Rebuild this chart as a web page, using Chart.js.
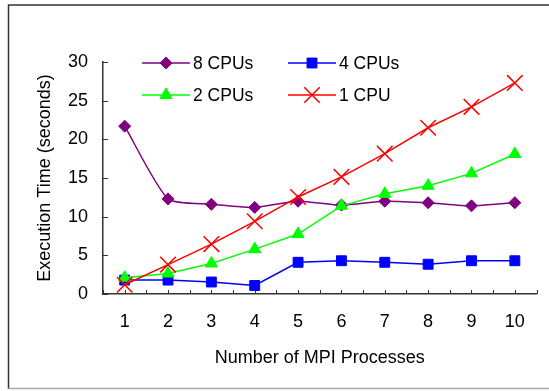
<!DOCTYPE html>
<html>
<head>
<meta charset="utf-8">
<script src="https://cdn.jsdelivr.net/npm/chart.js@4.4.1/dist/chart.umd.min.js"></script>
<style>
  body { margin: 0; background: #fff; }
  canvas { display: block; }
</style>
</head>
<body>
<canvas id="chart" width="549" height="391"></canvas>
<script>
// data
let procs = ['1', '2', '3', '4', '5', '6', '7', '8', '9', '10']
let cpu8 = [21.7, 12.3, 11.6, 11.2, 12.0, 11.5, 12.0, 11.8, 11.4, 11.8]
let cpu4 = [1.8, 1.8, 1.55, 1.1, 4.1, 4.3, 4.1, 3.85, 4.3, 4.3]
let cpu2 = [2.1, 2.65, 3.95, 5.8, 7.75, 11.4, 12.95, 14.0, 15.6, 18.1]
let cpu1 = [1.2, 3.8, 6.45, 9.4, 12.55, 15.15, 18.15, 21.5, 24.2, 27.3]
let yTicks = [0, 5, 10, 15, 20, 25, 30]

let fontName = "'Liberation Sans', Arial, sans-serif"

// frame round the whole picture (left/top dark, bottom light)
const framePlugin = {
    id: 'frame',
    beforeDraw(chart) {
        const ctx = chart.ctx
        ctx.save()
        ctx.fillStyle = '#fff'
        ctx.fillRect(0, 0, chart.width, chart.height)
        ctx.lineWidth = 1.5
        ctx.strokeStyle = '#333'
        ctx.beginPath()
        ctx.moveTo(8.5, chart.height - 2)
        ctx.lineTo(8.5, 5)
        ctx.lineTo(chart.width, 5)
        ctx.stroke()
        ctx.strokeStyle = '#aaa'
        ctx.beginPath()
        ctx.moveTo(8.5, chart.height - 2.5)
        ctx.lineTo(chart.width, chart.height - 2.5)
        ctx.stroke()
        ctx.restore()
    }
}

// small tick marks pointing into the plot, like the Excel original
const innerTicks = {
    id: 'innerTicks',
    afterDraw(chart) {
        const ctx = chart.ctx
        const x = chart.scales.x, y = chart.scales.y
        ctx.save()
        ctx.strokeStyle = '#333'
        ctx.lineWidth = 1
        ctx.beginPath()
        let half = (x.getPixelForValue(1) - x.getPixelForValue(0)) / 2
        for (let i = 0; i < procs.length; i++) {
            let px = x.getPixelForValue(i)
            for (let p of [px - half, px, px + half]) {
                ctx.moveTo(Math.round(p) + 0.5, y.bottom)
                ctx.lineTo(Math.round(p) + 0.5, y.bottom - 4)
            }
        }
        yTicks.forEach(v => {
            let py = Math.round(y.getPixelForValue(v)) + 0.5
            ctx.moveTo(x.left, py)
            ctx.lineTo(x.left + 5, py)
        })
        ctx.stroke()
        ctx.restore()
    }
}

// two-column legend inside the plot: line sample with marker, then label
const cpuLegend = {
    id: 'cpuLegend',
    afterDraw(chart) {
        const ctx = chart.ctx
        const rows = [63, 95]
        const cols = [142, 288]
        ctx.save()
        chart.data.datasets.forEach((ds, i) => {
            let lx = cols[i % 2], ly = rows[Math.floor(i / 2)]
            ctx.strokeStyle = ds.borderColor
            ctx.fillStyle = ds.backgroundColor
            ctx.lineWidth = ds.borderWidth
            ctx.beginPath()
            ctx.moveTo(lx, ly)
            ctx.lineTo(lx + 48, ly)
            ctx.stroke()
            ctx.lineWidth = ds.pointBorderWidth
            Chart.helpers.drawPoint(ctx, {
                pointStyle: ds.pointStyle,
                radius: ds.pointRadius,
                rotation: 0,
                borderWidth: ds.pointBorderWidth
            }, lx + 24, ly)
            ctx.fillStyle = '#000'
            ctx.font = '17.5px ' + fontName
            ctx.textBaseline = 'middle'
            ctx.textAlign = 'left'
            ctx.fillText(ds.label, lx + 51, ly + 1)
        })
        ctx.restore()
    }
}

const ctx = document.getElementById('chart').getContext('2d')
new Chart(ctx, {
    type: 'line',
    data: {
        labels: procs,
        datasets: [{
            label: '8 CPUs',
            data: cpu8,
            borderColor: '#800080',
            backgroundColor: '#800080',
            borderWidth: 1.5,
            pointStyle: 'rectRot',
            pointRadius: 6,
            pointBorderWidth: 1,
            tension: 0.2,
            order: 4
        }, {
            label: '4 CPUs',
            data: cpu4,
            borderColor: '#0000ff',
            backgroundColor: '#0000ff',
            borderWidth: 1.5,
            pointStyle: 'rect',
            pointRadius: 7,
            pointBorderWidth: 1,
            order: 3
        }, {
            label: '2 CPUs',
            data: cpu2,
            borderColor: '#00ff00',
            backgroundColor: '#00ff00',
            borderWidth: 1.5,
            pointStyle: 'triangle',
            pointRadius: 7,
            pointBorderWidth: 1,
            order: 2
        }, {
            label: '1 CPU',
            data: cpu1,
            borderColor: '#ff0000',
            backgroundColor: '#ff0000',
            borderWidth: 1.5,
            pointStyle: 'crossRot',
            pointRadius: 11,
            pointBorderWidth: 1.5,
            order: 1
        }]
    },
    options: {
        responsive: false,
        animation: false,
        layout: { padding: { left: 10, top: 62, right: 3, bottom: 5 } },
        plugins: {
            legend: { display: false },
            tooltip: { enabled: false }
        },
        scales: {
            x: {
                offset: true,
                grid: { display: true, drawOnChartArea: false, drawTicks: false },
                border: { display: true, color: '#333', width: 1.5 },
                ticks: { color: '#000', padding: 17, font: { family: fontName, size: 18 } },
                title: {
                    display: true,
                    text: 'Number of MPI Processes',
                    color: '#000',
                    padding: { top: 0, bottom: 17 },
                    font: { family: fontName, size: 18 }
                },
                afterFit: (scale) => { scale.height = 92 }
            },
            y: {
                min: 0,
                max: 30,
                grid: { display: true, drawOnChartArea: false, drawTicks: false },
                border: { display: true, color: '#333', width: 1.5 },
                ticks: { stepSize: 5, color: '#000', padding: 15, font: { family: fontName, size: 18 } },
                title: {
                    display: true,
                    text: 'Execution Time (seconds)',
                    color: '#000',
                    padding: { top: 24, bottom: 0 },
                    font: { family: fontName, size: 18 }
                },
                afterFit: (scale) => { scale.width = 93 }
            }
        }
    },
    plugins: [framePlugin, innerTicks, cpuLegend]
})
</script>
</body>
</html>
